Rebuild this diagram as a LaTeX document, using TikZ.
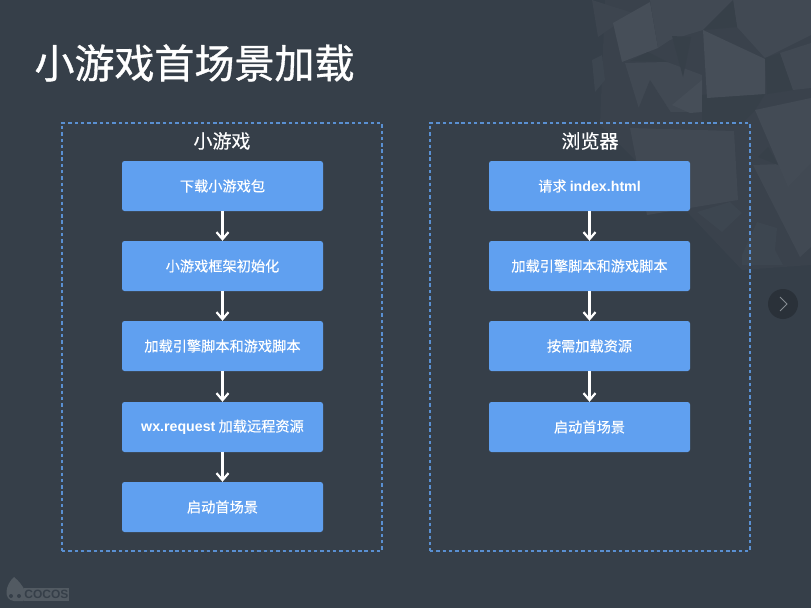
\documentclass[tikz,border=0pt]{standalone}
\usepackage{fontspec}
\usepackage{xcolor}
\setmainfont[FakeBold=0.3]{Noto Sans CJK SC}
\newfontfamily\titlefont[FakeBold=0.9]{Noto Sans CJK SC}
\newfontfamily\latinfont{Liberation Sans}
\usetikzlibrary{arrows.meta}
\definecolor{slatebg}{HTML}{363F49}
\definecolor{boxblue}{HTML}{60A0F0}
\definecolor{dashblue}{HTML}{5A90D2}
\definecolor{shardbase}{HTML}{3A424C}
\definecolor{shardlight}{HTML}{464E58}
\definecolor{shardmid}{HTML}{414953}
\definecolor{sharddark}{HTML}{374049}

\begin{document}
\begin{tikzpicture}[
    x=1pt, y=-1pt,
    shard/.style={fill=shardmid},
    shardhi/.style={fill=shardlight},
    shardlo/.style={fill=sharddark},
    stage/.style={fill=boxblue, rectangle, minimum width=201pt, minimum height=50pt, inner sep=0pt, rounded corners=2.5pt, text=white, font=\fontsize{14.2pt}{17pt}\selectfont},
    frame/.style={draw=dashblue, line width=1.4pt, dash pattern=on 3.4pt off 2.9pt, rectangle, minimum width=320pt, minimum height=428pt, inner sep=0pt},
    heading/.style={text=white, inner sep=0pt, font=\fontsize{19pt}{22pt}\selectfont},
    arrow/.style={-{Straight Barb[length=7pt,width=12pt,line width=2.2pt]}, white, line width=2.2pt},
]

% Background
\fill[slatebg] (0,0) rectangle (811,608);

% Shards
\fill[shardbase] (605,0) -- (811,0) -- (811,265) -- (742,270) -- (690,215) -- (600,125) -- cycle;
\fill[shardbase!60!shardmid] (592,0) -- (633,13) -- (598,37) -- cycle;
\fill[shardlight] (613,23) -- (650,2) -- (658,48) -- (622,62) -- cycle;
\fill[shardmid] (650,0) -- (733,0) -- (703,30) -- (670,40) -- (658,48) -- cycle;
\fill[shardbase!50!shardmid] (592,60) -- (602,55) -- (605,80) -- (595,92) -- cycle;
\fill[shard] (625,63) -- (667,62) -- (702,75) -- (702,112) -- (640,112) -- cycle;
\fill[shardlo] (630,61) -- (648,52) -- (667,62) -- cycle;
\fill[shardlo] (672,36) -- (691,37) -- (683,77) -- cycle;
\fill[shardbase] (650,80) -- (677,122) -- (633,122) -- cycle;
\fill[shardhi] (702,80) -- (702,112) -- (690,113) -- (672,105) -- cycle;
\fill[shard] (733,0) -- (811,0) -- (811,35) -- (765,58) -- (737,27) -- cycle;
\fill[shardlo] (733,0) -- (737,27) -- (703,30) -- cycle;
\fill[shardlo] (702,95) -- (765,94) -- (755,110) -- (740,125) -- (702,125) -- cycle;
\fill[shardhi] (703,30) -- (765,59) -- (765,94) -- (707,98) -- cycle;
\fill[shardlo] (765,58) -- (780,53) -- (793,90) -- (767,94) -- cycle;
\fill[shard] (780,53) -- (811,43) -- (811,88) -- (793,90) -- cycle;
\fill[shard] (753,165) -- (811,163) -- (811,247) -- (800,257) -- cycle;
\fill[shardmid!60!shardlight] (755,110) -- (811,98) -- (811,163) -- (788,187) -- cycle;
\fill[shardlo] (758,157) -- (768,147) -- (778,165) -- cycle;
\fill[shard] (630,128) -- (734,131) -- (738,200) -- (647,215) -- cycle;
\fill[shardbase!50!shardmid] (697,212) -- (730,202) -- (742,213) -- (722,232) -- cycle;
\fill[shardbase!50!shardmid] (742,255) -- (757,222) -- (777,228) -- (775,250) -- (783,265) -- (742,265) -- cycle;

% Next button
\node[circle, fill=black!22!slatebg, minimum size=30pt, inner sep=0pt] (nextbtn) at (783,304) {};
\draw[white!40!slatebg, line width=0.9pt] (780,297) -- (787,304) -- (780,311);

% Logo
\fill[white!14!slatebg] (14,577) .. controls (5,585) and (3,600) .. (14,601) -- (23,601) .. controls (30,598) and (24,585) .. (14,577) -- cycle;
\fill[slatebg] (11,596) circle (2pt) (19,596) circle (2pt);
\node[fill=white!14!slatebg, text=slatebg, inner sep=0pt, minimum width=41pt, minimum height=13pt, font=\fontsize{12pt}{13pt}\selectfont] (cocos) at (46.5,594.5) {\latinfont\bfseries COCOS};

% Title
\node[text=white, inner sep=0pt, font=\fontsize{40pt}{46pt}\titlefont] (title) at (194.5,63) {小游戏首场景加载};

% Frames
\node[frame] (gameframe) at (222,337) {};
\node[frame] (webframe) at (590,337) {};
\node[heading] (gametitle) at (222,141) {小游戏};
\node[heading] (webtitle) at (590,141) {浏览器};

% Mini game steps
\node[stage] (download) at (222.5,186) {下载小游戏包};
\node[stage] (frameinit) at (222.5,266) {小游戏框架初始化};
\node[stage] (gamescripts) at (222.5,346) {加载引擎脚本和游戏脚本};
\node[stage] (remote) at (222.5,427) {{\latinfont\bfseries wx.request} 加载远程资源};
\node[stage] (gamestart) at (222.5,507) {启动首场景};

% Browser steps
\node[stage] (request) at (589.5,186) {请求 {\latinfont\bfseries index.html}};
\node[stage] (webscripts) at (589.5,266) {加载引擎脚本和游戏脚本};
\node[stage] (ondemand) at (589.5,346) {按需加载资源};
\node[stage] (webstart) at (589.5,427) {启动首场景};

% Arrows
\draw[arrow] (download) -- (frameinit);
\draw[arrow] (frameinit) -- (gamescripts);
\draw[arrow] (gamescripts) -- (remote);
\draw[arrow] (remote) -- (gamestart);
\draw[arrow] (request) -- (webscripts);
\draw[arrow] (webscripts) -- (ondemand);
\draw[arrow] (ondemand) -- (webstart);

\end{tikzpicture}
\end{document}
